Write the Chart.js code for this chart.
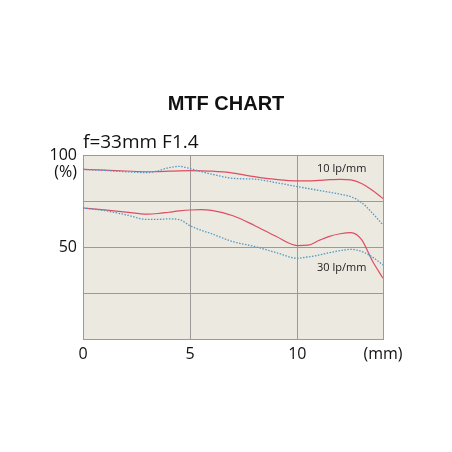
<!DOCTYPE html>
<html>
<head>
<meta charset="utf-8">
<script src="https://cdn.jsdelivr.net/npm/chart.js@4.4.1/dist/chart.umd.min.js"></script>
<style>
  html, body { margin: 0; padding: 0; background: #fff; }
  canvas { display: block; }
</style>
</head>
<body>
<canvas id="mtfChart" width="452" height="452"></canvas>
<script>
// Data (image height in mm vs contrast %)
const positions = [0, 1, 2, 3, 3.5, 4, 4.5, 5, 5.5, 6, 7, 8, 9, 10, 10.5, 11, 11.5, 12, 12.5, 13, 13.5, 14];
const sag10 = [92.2, 91.8, 91.3, 90.9, 91.0, 91.2, 91.4, 91.5, 91.4, 91.2, 90.2, 88.2, 86.7, 85.9, 85.9, 86.2, 86.6, 86.8, 86.5, 84.5, 80.8, 76.4];
const mer10 = [92.2, 91.6, 90.9, 90.4, 91.4, 93.1, 93.8, 92.6, 91.0, 89.6, 87.3, 86.9, 85.0, 82.8, 81.8, 80.8, 79.8, 78.7, 77.3, 74.2, 68.5, 62.0];
const sag30 = [71.2, 70.2, 69.0, 67.9, 68.2, 68.9, 69.6, 70.1, 70.3, 69.9, 67.0, 61.7, 55.8, 50.8, 51.0, 53.5, 55.8, 57.2, 57.8, 54.0, 42.5, 33.0];
const mer30 = [71.2, 69.8, 67.5, 65.0, 65.0, 65.3, 64.9, 61.5, 59.2, 57.2, 52.9, 50.3, 47.0, 43.9, 44.6, 45.6, 46.9, 48.0, 48.7, 47.6, 44.6, 40.2];

const xTicks = [0, 5, 10, 14];
const xTickLabels = ['0', '5', '10', '(mm)'];
const yTicks = [0, 25, 50, 75, 100];
const yTickLabels = ['', '', '50', '', '100'];

const titleText = 'MTF CHART';
const subtitleText = 'f=33mm F1.4';
const seriesLabels = [
    { text: '10 lp/mm', x: 12.07, y: 92.4 },
    { text: '30 lp/mm', x: 12.07, y: 38.8 }
];

const RED = '#dd4d63';
const BLUE = '#4f9bc8';

function toPoints(values) {
    return positions.map((x, i) => ({ x: x, y: values[i] }));
}

function solid(label, values) {
    return {
        label: label,
        data: toPoints(values),
        borderColor: RED,
        borderWidth: 1.2,
        pointRadius: 0,
        cubicInterpolationMode: 'monotone',
        fill: false
    };
}

function dotted(label, values) {
    return {
        label: label,
        data: toPoints(values),
        borderColor: BLUE,
        borderWidth: 1.3,
        borderDash: [1.5, 1.5],
        pointRadius: 0,
        cubicInterpolationMode: 'monotone',
        fill: false
    };
}

// Plot background + text around the plot
const decorations = {
    id: 'decorations',
    beforeDraw(chart) {
        const { ctx, chartArea } = chart;
        ctx.save();
        ctx.fillStyle = '#ece9e0';
        ctx.fillRect(chartArea.left, chartArea.top, chartArea.right - chartArea.left, chartArea.bottom - chartArea.top);
        ctx.restore();
    },
    afterDraw(chart) {
        const { ctx, chartArea, scales } = chart;
        ctx.save();
        ctx.fillStyle = '#111';

        ctx.font = 'bold 20px "Liberation Sans", Arial, sans-serif';
        ctx.textAlign = 'center';
        ctx.textBaseline = 'alphabetic';
        ctx.fillText(titleText, chart.width / 2, chartArea.top - 45);

        ctx.font = '19px "Open Sans", sans-serif';
        ctx.textAlign = 'left';
        ctx.fillText(subtitleText, chartArea.left, chartArea.top - 7);

        ctx.font = '16px "Open Sans", sans-serif';
        ctx.textAlign = 'right';
        ctx.textBaseline = 'middle';
        ctx.fillText('(%)', chartArea.left - 6, scales.y.getPixelForValue(100) + 17);

        ctx.font = '11px "Open Sans", sans-serif';
        ctx.textAlign = 'center';
        ctx.fillStyle = '#222';
        seriesLabels.forEach(l => {
            ctx.fillText(l.text, scales.x.getPixelForValue(l.x), scales.y.getPixelForValue(l.y));
        });
        ctx.restore();
    }
};

const ctx = document.getElementById('mtfChart').getContext('2d');
const mtfChart = new Chart(ctx, {
    type: 'line',
    data: {
        datasets: [
            dotted('Meridional 10 lp/mm', mer10),
            dotted('Meridional 30 lp/mm', mer30),
            solid('Sagittal 10 lp/mm', sag10),
            solid('Sagittal 30 lp/mm', sag30)
        ]
    },
    options: {
        responsive: false,
        animation: false,
        layout: { padding: { top: 155, right: 69, left: 0, bottom: 0 } },
        plugins: {
            legend: { display: false },
            tooltip: { enabled: false }
        },
        scales: {
            x: {
                type: 'linear',
                min: 0,
                max: 14,
                afterFit(scale) { scale.height = 113; },
                afterBuildTicks(scale) { scale.ticks = xTicks.map(v => ({ value: v })); },
                grid: { color: '#9c9a96', lineWidth: 1, drawTicks: false },
                border: { color: '#9c9a96' },
                ticks: {
                    padding: 6,
                    color: '#111',
                    font: { family: 'Open Sans', size: 16 },
                    maxRotation: 0,
                    autoSkip: false,
                    callback: (v, i) => xTickLabels[i]
                }
            },
            y: {
                min: 0,
                max: 100,
                afterFit(scale) { scale.width = 83; },
                afterBuildTicks(scale) { scale.ticks = yTicks.map(v => ({ value: v })); },
                grid: { color: '#9c9a96', lineWidth: 1, drawTicks: false },
                border: { color: '#9c9a96' },
                ticks: {
                    padding: 6,
                    color: '#111',
                    font: { family: 'Open Sans', size: 16 },
                    autoSkip: false,
                    callback: (v, i) => yTickLabels[i]
                }
            }
        }
    },
    plugins: [decorations]
});
</script>
</body>
</html>
